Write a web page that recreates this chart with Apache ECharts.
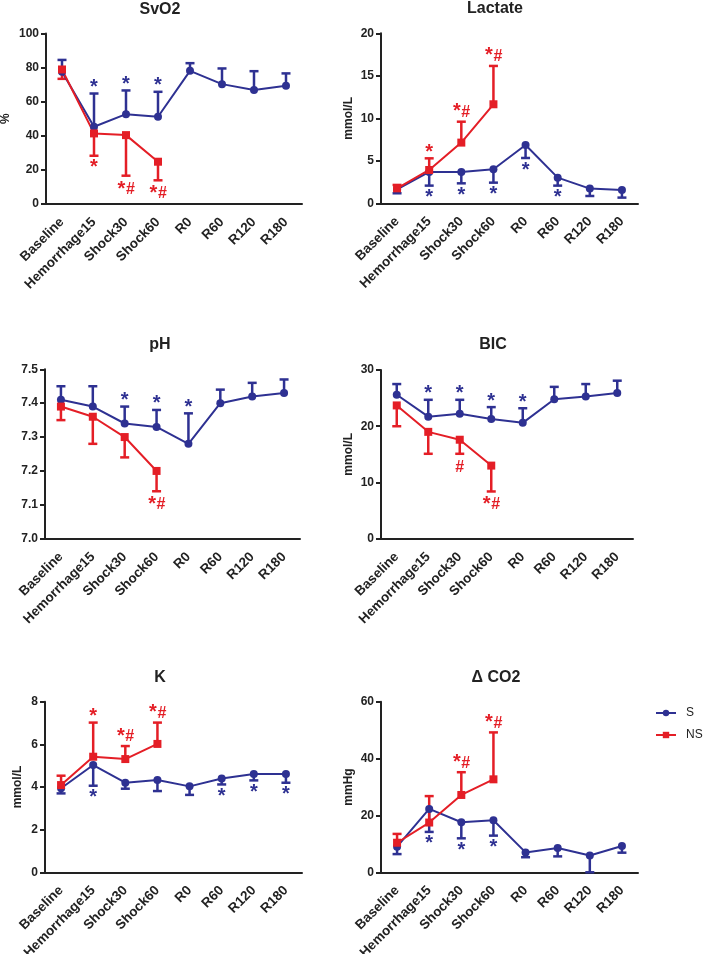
<!DOCTYPE html>
<html><head><meta charset="utf-8">
<script src="https://cdn.jsdelivr.net/npm/echarts@6/dist/echarts.min.js"></script>
<style>html,body{margin:0;padding:0;background:#fff}#c{width:703px;height:954px}</style>
</head><body><div id="c"></div>
<script>
// ---------- DATA ----------
const categories = ['Baseline','Hemorrhage15','Shock30','Shock60','R0','R60','R120','R180'];

const svo2S     = [77.5, 45.3, 52.7, 51.2, 78.1, 70.3, 66.8, 69.3];
const svo2S_sd  = [7.0, 19.5, 13.9, 14.6, 4.5, 9.2, 11.1, 7.3];
const svo2NS    = [78.9, 41.4, 40.4, 24.8];
const svo2NS_sd = [5.5, 13.1, 23.8, 10.9];
const svo2S_sig  = ['', '*', '*', '*', '', '', '', ''];
const svo2NS_sig = ['', '*', '*#', '*#'];
const svo2Range = [0, 100, 20];

const lacS     = [1.65, 3.69, 3.69, 4.0, 6.86, 3.02, 1.73, 1.57];
const lacS_sd  = [0.47, 1.61, 1.34, 1.57, 1.53, 0.94, 0.87, 0.9];
const lacNS    = [1.76, 3.92, 7.14, 11.65];
const lacNS_sd = [0.4, 1.37, 2.46, 4.51];
const lacS_sig  = ['', '*', '*', '*', '*', '*', '', ''];
const lacNS_sig = ['', '*', '*#', '*#'];
const lacRange = [0, 20, 5];

const phS     = [7.41, 7.39, 7.34, 7.33, 7.28, 7.40, 7.42, 7.43];
const phS_sd  = [0.04, 0.06, 0.05, 0.05, 0.09, 0.04, 0.04, 0.04];
const phNS    = [7.39, 7.36, 7.30, 7.20];
const phNS_sd = [0.04, 0.08, 0.06, 0.06];
const phS_sig  = ['', '', '*', '*', '*', '', '', ''];
const phNS_sig = ['', '', '', '*#'];
const phRange = [7.0, 7.5, 0.1];

const bicS     = [25.6, 21.7, 22.2, 21.3, 20.6, 24.8, 25.3, 25.9];
const bicS_sd  = [1.9, 3.0, 2.5, 2.1, 2.6, 2.2, 2.2, 2.2];
const bicNS    = [23.7, 19.0, 17.6, 13.0];
const bicNS_sd = [3.7, 3.9, 2.5, 4.6];
const bicS_sig  = ['', '*', '*', '*', '*', '', '', ''];
const bicNS_sig = ['', '', '#', '*#'];
const bicRange = [0, 30, 10];

const kS     = [3.94, 5.03, 4.2, 4.33, 4.03, 4.4, 4.61, 4.61];
const kS_sd  = [0.24, 0.97, 0.28, 0.52, 0.4, 0.28, 0.3, 0.41];
const kNS    = [4.09, 5.42, 5.31, 6.02];
const kNS_sd = [0.44, 1.6, 0.61, 1.0];
const kS_sig  = ['', '*', '', '', '', '*', '*', '*'];
const kNS_sig = ['', '*', '*#', '*#'];
const kRange = [0, 8, 2];

const co2S     = [9.0, 22.3, 17.6, 18.3, 7.0, 8.55, 5.9, 9.25];
const co2S_sd  = [2.6, 8.1, 5.65, 5.4, 1.7, 2.95, 5.9, 2.35];
const co2NS    = [10.4, 17.5, 27.2, 32.7];
const co2NS_sd = [3.1, 9.3, 8.0, 16.5];
const co2S_sig  = ['', '*', '*', '*', '', '', '', ''];
const co2NS_sig = ['', '', '*#', '*#'];
const co2Range = [0, 60, 20];

// ---------- STYLE / LAYOUT ----------
const BLUE = '#2E3192', RED = '#E41E26', AX = '#222';
const FF = '"Liberation Sans", Arial, Helvetica, sans-serif';

const panels = [
  {title:'SvO2', yName:'%', range:svo2Range, dec:0, S:svo2S, Ssd:svo2S_sd, Sdir:1, NS:svo2NS, NSsd:svo2NS_sd, NSdir:-1, Ssig:svo2S_sig, NSsig:svo2NS_sig,
   grid:{left:46, top:33.5, width:256, height:170.5}, tx:160, ty:2, gap:34},
  {title:'Lactate', yName:'mmol/L', range:lacRange, dec:0, S:lacS, Ssd:lacS_sd, Sdir:-1, NS:lacNS, NSsd:lacNS_sd, NSdir:1, Ssig:lacS_sig, NSsig:lacNS_sig,
   grid:{left:381, top:33.3, width:257, height:170}, tx:495, ty:1, gap:26},
  {title:'pH', yName:'', range:phRange, dec:1, S:phS, Ssd:phS_sd, Sdir:1, NS:phNS, NSsd:phNS_sd, NSdir:-1, Ssig:phS_sig, NSsig:phNS_sig,
   grid:{left:45, top:369.3, width:255, height:169.4}, tx:160, ty:337, gap:30},
  {title:'BIC', yName:'mmol/L', range:bicRange, dec:0, S:bicS, Ssd:bicS_sd, Sdir:1, NS:bicNS, NSsd:bicNS_sd, NSdir:-1, Ssig:bicS_sig, NSsig:bicNS_sig,
   grid:{left:381, top:370, width:252, height:168.7}, tx:493, ty:337, gap:26},
  {title:'K', yName:'mmol/L', range:kRange, dec:0, S:kS, Ssd:kS_sd, Sdir:-1, NS:kNS, NSsd:kNS_sd, NSdir:1, Ssig:kS_sig, NSsig:kNS_sig,
   grid:{left:45, top:701.7, width:257, height:170.6}, tx:160, ty:670, gap:21},
  {title:'\u0394 CO2', yName:'mmHg', range:co2Range, dec:0, S:co2S, Ssd:co2S_sd, Sdir:-1, NS:co2NS, NSsd:co2NS_sd, NSdir:1, Ssig:co2S_sig, NSsig:co2NS_sig,
   grid:{left:381, top:701.7, width:257, height:170.6}, tx:496, ty:670, gap:26}
];

function errData(mean, sd, dir){ return mean.map((m,i)=>[i, m, m + dir*sd[i]]); }
function errSeries(i, mean, sd, dir, color){
  return {type:'custom', xAxisIndex:i, yAxisIndex:i, z:2, silent:true,
    data: errData(mean, sd, dir), encode:{x:0, y:[1,2]},
    renderItem:(params, api)=>{
      const x = api.value(0), m = api.value(1), e = api.value(2);
      const p0 = api.coord([x, m]), p1 = api.coord([x, e]);
      const hw = 4.5;
      const st = {stroke: color, lineWidth: 2.5};
      return {type:'group', children:[
        {type:'line', shape:{x1:p0[0], y1:p0[1], x2:p1[0], y2:p1[1]}, style:st},
        {type:'line', shape:{x1:p1[0]-hw, y1:p1[1], x2:p1[0]+hw, y2:p1[1]}, style:st}
      ]};
    }};
}
function sigSeries(i, mean, sd, dir, sig, color){
  const data = [], texts = [];
  sig.forEach((s,k)=>{ if(s){ data.push([k, mean[k] + dir*sd[k]]); texts.push(s); } });
  return {type:'custom', xAxisIndex:i, yAxisIndex:i, z:4, silent:true, data, encode:{x:0,y:1},
    renderItem:(params, api)=>{
      const p = api.coord([api.value(0), api.value(1)]);
      const t = texts[params.dataIndex];
      const hasStar = t.indexOf('*') >= 0, hasHash = t.indexOf('#') >= 0;
      const both = hasStar && hasHash;
      const children = [];
      if (hasStar) {
        const dy = dir > 0 ? (both ? -10 : -6) : (both ? 13.5 : 12);
        children.push({type:'text', x:p[0] + (both ? -4.5 : 0), y:p[1] + dy,
          style:{text:'*', fill:color, font:'bold 20px ' + FF, align:'center', verticalAlign:'middle'}});
      }
      if (hasHash) {
        const dy = dir > 0 ? -9 : 13.5;
        children.push({type:'text', x:p[0] + (both ? 4.5 : 0), y:p[1] + dy,
          style:{text:'#', fill:color, font:'bold 16px ' + FF, align:'center', verticalAlign:'middle'}});
      }
      return {type:'group', children};
    }};
}

const option = {
  backgroundColor:'#fff',
  animation:false,
  title: panels.map(p=>({text:p.title, left:p.tx, top:p.ty, textAlign:'center', textVerticalAlign:'top', padding:0,
    textStyle:{fontSize:16, fontWeight:'bold', color:AX, fontFamily:FF}})),
  legend:{data:['S','NS'], orient:'vertical', left:655, top:707, padding:0, itemWidth:20, itemHeight:8, itemGap:10,
    textStyle:{fontSize:12, color:AX, fontFamily:FF, padding:[0,0,0,5]}},
  grid: panels.map(p=>Object.assign({containLabel:false, outerBoundsMode:'none'}, p.grid)),
  xAxis: panels.map((p,i)=>({type:'category', gridIndex:i, data:categories, boundaryGap:true,
    axisLine:{lineStyle:{color:AX, width:2}},
    axisTick:{alignWithLabel:true, length:5, lineStyle:{color:AX, width:2}},
    axisLabel:{rotate:45, interval:0, margin:16, fontSize:13.5, fontWeight:'bold', color:AX, fontFamily:FF},
    splitLine:{show:false}})),
  yAxis: panels.map((p,i)=>({type:'value', gridIndex:i, min:p.range[0], max:p.range[1], interval:p.range[2],
    name:p.yName, nameLocation:'middle', nameGap:p.gap,
    nameTextStyle:{fontSize:12, fontWeight:'bold', color:AX, fontFamily:FF},
    axisLine:{show:true, lineStyle:{color:AX, width:2}},
    axisTick:{show:true, length:5, lineStyle:{color:AX, width:2}},
    axisLabel:{margin:7, fontSize:12, fontWeight:'bold', color:AX, fontFamily:FF, formatter:v=>Number(v).toFixed(p.dec)},
    splitLine:{show:false}})),
  series: []
};

panels.forEach((p,i)=>{
  option.series.push(errSeries(i, p.S, p.Ssd, p.Sdir, BLUE));
  option.series.push({name:'S', type:'line', xAxisIndex:i, yAxisIndex:i, data:p.S, z:3,
    symbol:'circle', symbolSize:8, showSymbol:true, itemStyle:{color:BLUE}, lineStyle:{color:BLUE, width:2}});
  option.series.push(errSeries(i, p.NS, p.NSsd, p.NSdir, RED));
  option.series.push({name:'NS', type:'line', xAxisIndex:i, yAxisIndex:i, data:p.NS, z:3,
    symbol:'rect', symbolSize:8, showSymbol:true, itemStyle:{color:RED}, lineStyle:{color:RED, width:2}});
  option.series.push(sigSeries(i, p.S, p.Ssd, p.Sdir, p.Ssig, BLUE));
  option.series.push(sigSeries(i, p.NS, p.NSsd, p.NSdir, p.NSsig, RED));
});

const chart = echarts.init(document.getElementById('c'), null, {renderer:'canvas'});
chart.setOption(option);
</script></body></html>
